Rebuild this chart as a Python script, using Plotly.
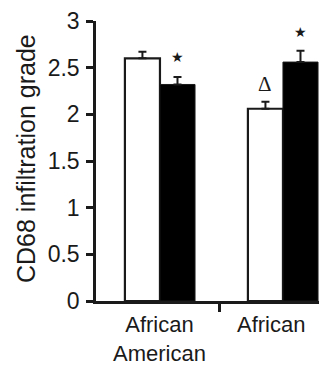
import plotly.graph_objects as go

groups = ["African<br>American", "African"]
white_vals = [2.60, 2.06]
white_err = [0.07, 0.075]
black_vals = [2.32, 2.56]
black_err = [0.08, 0.12]
y_ticks = [0, 0.5, 1, 1.5, 2, 2.5, 3]
y_ticktext = ["0", "0.5", "1", "1.5", "2", "2.5", "3"]
white_marks = ["", "Δ"]
white_mark_y = [None, 2.32]
black_marks = ["★", "★"]
black_mark_y = [2.61, 2.88]

xpos = list(range(len(groups)))
FONT = "Liberation Sans, Arial, sans-serif"
INK = "#1a1a1a"

# page body has an 8px default margin, so the figure is 8px smaller
W, H = 319, 361
L, R, T, B = 88, 0, 13, 68
PW, PH = W - L - R, H - T - B

fig = go.Figure()
fig.add_trace(go.Bar(
    x=xpos, y=white_vals,
    marker=dict(color="white", line=dict(color=INK, width=2.2)),
    error_y=dict(type="data", symmetric=False, array=white_err,
                 arrayminus=[0] * len(white_err), color=INK, thickness=2, width=4),
    showlegend=False,
))
fig.add_trace(go.Bar(
    x=xpos, y=black_vals,
    marker=dict(color="black", line=dict(color=INK, width=1)),
    error_y=dict(type="data", symmetric=False, array=black_err,
                 arrayminus=[0] * len(black_err), color=INK, thickness=2, width=4),
    showlegend=False,
))

bw = 0.285
annotations = []
for i, (m, yv) in enumerate(zip(white_marks, white_mark_y)):
    if m:
        annotations.append(dict(x=i - bw / 2, y=yv, text=m, showarrow=False,
                                font=dict(family="Liberation Serif, Times New Roman, serif",
                                          size=21, color=INK), yanchor="middle"))
for i, (m, yv) in enumerate(zip(black_marks, black_mark_y)):
    annotations.append(dict(x=i + bw / 2, y=yv, text=m, showarrow=False,
                            font=dict(family="DejaVu Sans, sans-serif", size=14, color=INK),
                            yanchor="middle"))
label_x = [0, 0.9]
for lx, g in zip(label_x, groups):
    annotations.append(dict(x=lx, y=0, yref="y", text=g, showarrow=False,
                            yanchor="top", yshift=-9,
                            font=dict(family=FONT, size=22, color=INK)))
annotations.append(dict(x=(18 - L) / PW, xref="paper", y=0.507, yref="paper",
                        text="CD68 infiltration grade", textangle=-90, showarrow=False,
                        xanchor="center", yanchor="middle",
                        font=dict(family=FONT, size=25, color=INK)))

fig.update_layout(
    width=W, height=H,
    margin=dict(l=L, r=R, t=T, b=B, pad=0),
    paper_bgcolor="white", plot_bgcolor="white",
    barmode="group", bargap=0.43, bargroupgap=0,
    annotations=annotations,
    font=dict(family=FONT, color=INK),
    shapes=[dict(type="rect", xref="paper", yref="paper",
                 x0=(314 - L) / PW, x1=1.0, y0=1 + (T - 4) / PH, y1=1 + T / PH,
                 fillcolor="#dcdcef", line=dict(width=0), layer="above")],
)
fig.update_xaxes(range=[-0.52, 1.358], showgrid=False, zeroline=False,
                 showline=True, linecolor=INK, linewidth=2.5,
                 tickmode="array", tickvals=[0.48], ticktext=[""],
                 ticks="outside", ticklen=8, tickwidth=2.5, tickcolor=INK)
fig.update_yaxes(range=[0, 3], showgrid=False, zeroline=False,
                 showline=True, linecolor=INK, linewidth=2.5,
                 tickmode="array", tickvals=y_ticks, ticktext=y_ticktext,
                 ticks="outside", ticklen=7, tickwidth=2.5, tickcolor=INK,
                 ticklabelstandoff=2,
                 tickfont=dict(family=FONT, size=23, color=INK))

fig.write_html("out.html")
